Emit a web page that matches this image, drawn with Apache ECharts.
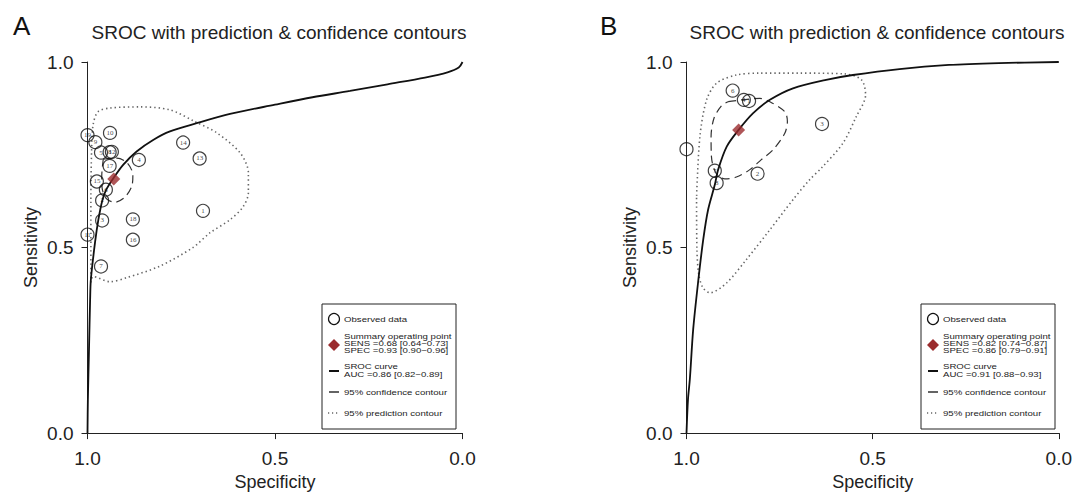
<!DOCTYPE html>
<html>
<head>
<meta charset="utf-8">
<script src="https://cdn.jsdelivr.net/npm/echarts/dist/echarts.min.js"></script>
<style>
html,body{margin:0;padding:0;background:#fff}
#chart{width:1075px;height:496px}
</style>
</head>
<body>
<div id="chart"></div>
<script>
// panel A: observed studies
const aLabels = ['1','2','3','4','5','6','7','8','9','10','11','12','13','14','15','16','17','18','19'];
const aSpec = [0.692,0.961,0.961,0.863,0.964,0.951,0.964,0.941,0.979,0.94,1.0,0.935,0.701,0.745,0.975,0.879,0.941,0.879,1.0];
const aSens = [0.599,0.627,0.573,0.736,0.756,0.656,0.449,0.757,0.784,0.809,0.535,0.758,0.740,0.783,0.678,0.521,0.720,0.576,0.803];
const aSummary = [0.93, 0.685];
// SROC curve A
const aCurveSpec = [1.0,0.999,0.996,0.993,0.991,0.98,0.971,0.96,0.949,0.931,0.905,0.869,0.825,0.78,0.709,0.62,0.5,0.4,0.3,0.2,0.1,0.04,0.01,0.0];
const aCurveSens = [0.0,0.09,0.226,0.36,0.414,0.513,0.575,0.629,0.658,0.687,0.723,0.759,0.79,0.813,0.835,0.86,0.885,0.905,0.922,0.94,0.958,0.972,0.985,1.0];
// 95% confidence contour A
const aConfSpec = [0.958,0.922,0.895,0.879,0.882,0.9,0.927,0.949,0.961,0.962,0.958];
const aConfSens = [0.738,0.741,0.729,0.696,0.665,0.636,0.622,0.631,0.660,0.692,0.738];
// 95% prediction contour A
const aPredSpec = [0.991,0.991,0.991,0.989,0.985,0.972,0.94,0.86,0.78,0.713,0.655,0.593,0.571,0.571,0.585,0.62,0.673,0.719,0.807,0.895,0.94,0.985,0.991];
const aPredSens = [0.406,0.495,0.629,0.763,0.831,0.866,0.876,0.879,0.871,0.839,0.809,0.755,0.702,0.648,0.610,0.575,0.540,0.500,0.450,0.419,0.408,0.422,0.406];

// panel B: observed studies
const bLabels = ['1','2','3','4','','6','7','8'];
const bSpec = [0.832,0.809,0.636,0.846,1.0,0.876,0.924,0.919];
const bSens = [0.895,0.699,0.833,0.898,0.765,0.923,0.707,0.674];
const bSummary = [0.86, 0.817];
const bCurveSpec = [1.0,0.996,0.991,0.982,0.968,0.955,0.942,0.924,0.915,0.892,0.86,0.821,0.776,0.714,0.625,0.553,0.428,0.295,0.161,0.0];
const bCurveSens = [0.0,0.091,0.145,0.28,0.414,0.522,0.602,0.669,0.71,0.772,0.817,0.862,0.898,0.929,0.952,0.965,0.981,0.992,0.997,1.0];
const bConfSpec = [0.888,0.803,0.776,0.736,0.729,0.736,0.768,0.799,0.83,0.866,0.897,0.921,0.933,0.934,0.926,0.906,0.888];
const bConfSens = [0.893,0.902,0.893,0.866,0.840,0.808,0.763,0.737,0.710,0.690,0.685,0.701,0.745,0.799,0.849,0.882,0.893];
const bPredSpec = [0.973,0.972,0.967,0.956,0.937,0.892,0.839,0.776,0.714,0.669,0.637,0.58,0.544,0.519,0.53,0.576,0.696,0.803,0.866,0.919,0.946,0.964,0.973];
const bPredSens = [0.634,0.495,0.427,0.392,0.378,0.405,0.468,0.548,0.629,0.683,0.715,0.781,0.853,0.911,0.952,0.968,0.970,0.970,0.965,0.943,0.898,0.799,0.634];

const titleText = 'SROC with prediction & confidence contours';
const aLegend = ['Observed data',['Summary operating point','SENS =0.68 [0.64\u22120.73]','SPEC =0.93 [0.90\u22120.96]'],['SROC curve','AUC =0.86 [0.82\u22120.89]'],'95% confidence contour','95% prediction contour'];
const bLegend = ['Observed data',['Summary operating point','SENS =0.82 [0.74\u22120.87]','SPEC =0.86 [0.79\u22120.91]'],['SROC curve','AUC =0.91 [0.88\u22120.93]'],'95% confidence contour','95% prediction contour'];

const FONT = 'Helvetica, Arial, "Liberation Sans", sans-serif';
const zip = (xs, ys, lab) => xs.map((x, i) => lab ? [x, ys[i], lab[i]] : [x, ys[i]]);

const axisX = (gi) => ({
  type:'value', gridIndex:gi, min:0, max:1, interval:0.5, inverse:true,
  name:'Specificity', nameLocation:'middle', nameGap:35,
  nameTextStyle:{fontSize:18, color:'#222', fontFamily:FONT},
  axisLine:{onZero:false, lineStyle:{color:'#222', width:1}},
  axisTick:{length:6, lineStyle:{color:'#222'}},
  axisLabel:{fontSize:19, color:'#222', fontFamily:FONT, margin:16, formatter:v => v.toFixed(1)},
  splitLine:{show:false}
});
const axisY = (gi) => ({
  type:'value', gridIndex:gi, min:0, max:1, interval:0.5,
  name:'Sensitivity', nameLocation:'middle', nameGap:48,
  nameTextStyle:{fontSize:18, color:'#222', fontFamily:FONT},
  axisLine:{show:true, onZero:false, lineStyle:{color:'#222', width:1}},
  axisTick:{show:true, length:6, lineStyle:{color:'#222'}},
  axisLabel:{fontSize:19, color:'#222', fontFamily:FONT, margin:14, formatter:v => v.toFixed(1)},
  splitLine:{show:false}
});

const panelSeries = (gi, d) => [
  {type:'line', xAxisIndex:gi, yAxisIndex:gi, data:zip(d.predX, d.predY), smooth:0.3, showSymbol:false, symbol:'none',
   lineStyle:{color:'#666', width:1.6, type:[1.4,3]}, z:2},
  {type:'line', xAxisIndex:gi, yAxisIndex:gi, data:zip(d.confX, d.confY), smooth:0.3, showSymbol:false, symbol:'none',
   lineStyle:{color:'#333', width:1.2, type:[8,5]}, z:2},
  {type:'line', xAxisIndex:gi, yAxisIndex:gi, data:zip(d.curveX, d.curveY), smooth:0.3, showSymbol:false, symbol:'none',
   lineStyle:{color:'#111', width:1.8}, z:3},
  {type:'scatter', xAxisIndex:gi, yAxisIndex:gi, data:zip(d.obsX, d.obsY, d.labels), symbol:'circle', symbolSize:13, clip:false,
   itemStyle:{color:'rgba(0,0,0,0)', borderColor:'#111', borderWidth:1.2},
   label:{show:true, position:'inside', formatter:p => p.value[2], fontSize:7, color:'#111', fontFamily:'"Liberation Serif", "DejaVu Serif", serif'}, z:4},
  {type:'scatter', xAxisIndex:gi, yAxisIndex:gi, data:[d.summary], symbol:'diamond', symbolSize:[13,13], clip:false,
   itemStyle:{color:'#9b2c2e'}, z:5}
];

// legend drawn as a box: lines of text are slightly stretched wide, as in the figure
function legendBox(x0, labels) {
  const els = [];
  const tx = x0 + 22, ix = x0 + 12;
  els.push({type:'rect', shape:{x:x0, y:304, width:134, height:125}, style:{fill:'#fff', stroke:'#222', lineWidth:1}, z:10});
  els.push({type:'circle', shape:{cx:ix, cy:319, r:5.5}, style:{fill:'none', stroke:'#111', lineWidth:1.2}, z:11});
  els.push({type:'polygon', shape:{points:[[ix,339],[ix+6,345],[ix,351],[ix-6,345]]}, style:{fill:'#9b2c2e'}, z:11});
  els.push({type:'line', shape:{x1:ix-5, y1:371, x2:ix+5, y2:371}, style:{stroke:'#111', lineWidth:2}, z:11});
  els.push({type:'line', shape:{x1:ix-5, y1:392, x2:ix+5, y2:392}, style:{stroke:'#222', lineWidth:1.4}, z:11});
  els.push({type:'line', shape:{x1:ix-6, y1:413, x2:ix+6, y2:413}, style:{stroke:'#666', lineWidth:1.3, lineDash:[1.2,2.8]}, z:11});
  const ys = [319, 343.5, 370.5, 392, 413];
  const step = 7.3;
  labels.forEach((t, i) => {
    const lines = Array.isArray(t) ? t : [t];
    lines.forEach((s, j) => {
      const y = ys[i] + (j - (lines.length - 1) / 2) * step;
      els.push({type:'text', x:tx, y:y, scaleX:1.3, scaleY:1, z:11,
        style:{text:s, fill:'#222', fontSize:7.4, fontFamily:FONT, verticalAlign:'middle', align:'left'}});
    });
  });
  return els;
}

const chart = echarts.init(document.getElementById('chart'), null, {renderer:'svg'});
chart.setOption({
  animation:false,
  backgroundColor:'#fff',
  title:[
    {text:'A', left:8, top:8, textStyle:{fontSize:26, fontWeight:'normal', color:'#111', fontFamily:FONT}},
    {text:'B', left:595, top:8, textStyle:{fontSize:26, fontWeight:'normal', color:'#111', fontFamily:FONT}},
    {text:titleText, left:274, top:18, textAlign:'center', textStyle:{fontSize:19, fontWeight:'normal', color:'#222', fontFamily:FONT}},
    {text:titleText, left:872, top:18, textAlign:'center', textStyle:{fontSize:19, fontWeight:'normal', color:'#222', fontFamily:FONT}}
  ],
  grid:[
    {left:87.5, top:62, width:375, height:372},
    {left:686.5, top:62, width:373.5, height:372}
  ],
  xAxis:[axisX(0), axisX(1)],
  yAxis:[axisY(0), axisY(1)],
  series:[
    ...panelSeries(0, {predX:aPredSpec, predY:aPredSens, confX:aConfSpec, confY:aConfSens, curveX:aCurveSpec, curveY:aCurveSens,
      obsX:aSpec, obsY:aSens, labels:aLabels, summary:aSummary}),
    ...panelSeries(1, {predX:bPredSpec, predY:bPredSens, confX:bConfSpec, confY:bConfSens, curveX:bCurveSpec, curveY:bCurveSens,
      obsX:bSpec, obsY:bSens, labels:bLabels, summary:bSummary})
  ],
  graphic:[...legendBox(322, aLegend), ...legendBox(921, bLegend)]
});
</script>
</body>
</html>
